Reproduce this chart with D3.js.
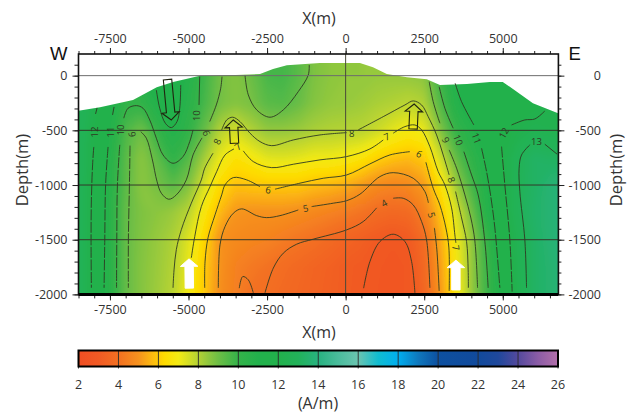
<!DOCTYPE html>
<html>
<head>
<meta charset="utf-8">
<script src="https://cdn.jsdelivr.net/npm/d3@7"></script>
<style>
html, body { margin: 0; padding: 0; background: #fff; }
svg { display: block; }
text { font-family: "Open Sans", sans-serif; fill: #333; }
</style>
</head>
<body>
<svg id="chart" width="634" height="414"></svg>
<script>
// tick labels
const xMajor = [-7500, -5000, -2500, 0, 2500, 5000]
const xMinor = d3.range(-8500, 6501, 500)
const depthMajor = [0, -500, -1000, -1500, -2000]
const depthMinor = d3.range(-2000, 101, 100)
const gridDepths = [0, -500, -1000, -1500]
const barTicks = [2, 4, 6, 8, 10, 12, 14, 16, 18, 20, 22, 24, 26]

// colour ramp of the A/m bar
const rampValues = [2, 3, 4, 5, 5.7, 6.3, 7, 8, 8.5, 9, 10, 11, 12, 13, 14, 15, 16, 17, 18, 19, 20, 22, 23, 24, 25, 26]
const rampColors = ['#f04e23', '#f15a24', '#f37021', '#f6921e', '#fdbb10', '#ffdb00', '#f3ea14', '#b4d234', '#8fc73e', '#6dbe45', '#34b34a', '#22b14c', '#22b14c', '#22b25a', '#28b280', '#4abc9c', '#6bc4b0', '#10bcd0', '#00aeef', '#0f78bd', '#0d50a0', '#114a9c', '#1f489c', '#54499d', '#8b5ca6', '#b370aa']

// surface of the section, x and elevation
const surfaceX = [-8500, -7815, -6765, -6010, -5490, -4635, -3500, -2725, -2310, -1870, -820, 107, 455, 870, 1310, 1950, 2580, 3000, 3860, 4590, 5000, 5325, 5960, 6760]
const surfaceZ = [-320, -290, -222, -106, -58, 0, 5, 15, 60, 95, 115, 115, 115, 77, 15, -15, -33, -85, -76, -58, -58, -122, -253, -343]

const gridStartX = -8500, gridStepX = 500, gridStartDepth = 250, gridStepDepth = 250
const row250 = [13, 12.5, 11.6, 10.9, 10.9, 11.1, 11.5, 10.8, 9.9, 9, 8.7, 9.1, 9.7, 9.8, 9.4, 8.8, 8.6, 8.5, 8.5, 8.45, 8.45, 8.5, 8.6, 9.9, 11, 11.7, 11.8, 11.85, 11.9, 12, 12, 12]
const row0 = [13, 12.5, 11.6, 10.9, 10.9, 11.1, 11.5, 10.8, 9.9, 9, 8.7, 9.1, 9.7, 9.8, 9.4, 8.8, 8.6, 8.5, 8.5, 8.45, 8.45, 8.5, 8.6, 9.9, 11, 11.7, 11.8, 11.85, 11.9, 12, 12, 12]
const row250m = [13, 12.3, 11.3, 10.15, 10.2, 10.95, 11.4, 10.55, 9.75, 8.95, 8.7, 8.9, 9.4, 9.5, 9.15, 8.7, 8.5, 8.45, 8.35, 8.2, 8.1, 7.95, 8.1, 9.5, 10.8, 11.4, 11.7, 11.85, 11.9, 11.95, 12.1, 12.1]
const row500m = [13, 12.05, 11, 9.6, 9, 10.1, 10.9, 10.25, 9.2, 8.05, 7.55, 8.1, 8.5, 8.5, 8.4, 8.2, 8.1, 8.05, 8, 7.7, 7.3, 6.95, 7.2, 8.7, 10.1, 10.8, 11.5, 11.95, 12.2, 12.5, 12.4, 12.4]
const row750m = [13, 11.95, 10.7, 9.4, 8.6, 9.3, 10.3, 9.5, 8.3, 7.2, 6.6, 6.9, 7.35, 7.4, 7.3, 7.1, 7.1, 6.95, 6.7, 6.2, 5.9, 5.75, 6, 7.6, 9.2, 10.3, 11.1, 12, 12.85, 13.3, 13.2, 13.2]
const row1000m = [13, 11.8, 10.6, 9.35, 8.6, 8.95, 9.4, 8.8, 7.5, 6.4, 5.85, 5.95, 6, 6, 6, 5.8, 5.7, 5.55, 5.2, 4.85, 4.7, 4.8, 5.2, 6.5, 8.3, 9.7, 11, 11.95, 12.9, 13.3, 13.7, 13.9]
const row1250m = [13, 11.8, 10.6, 9.2, 8.8, 8.6, 8.4, 8, 6.8, 5.7, 5.1, 5, 5, 5, 4.9, 4.75, 4.6, 4.4, 4.15, 3.85, 3.7, 3.8, 4.55, 5.85, 7.4, 9, 10.8, 11.8, 12.95, 13.4, 13.7, 13.9]
const row1500m = [13, 11.8, 10.6, 9.2, 8.75, 8.45, 8.15, 7.4, 6.3, 5, 4.8, 4.7, 4.6, 4.4, 4.2, 4, 3.75, 3.5, 3.3, 3.05, 2.85, 3.05, 3.85, 5.4, 7, 8.5, 10.15, 11.6, 12.6, 13.3, 13.7, 13.9]
const row1750m = [13, 11.8, 10.6, 9.2, 8.7, 8.4, 8.07, 7.2, 6.05, 5, 4.55, 4.3, 4.1, 3.9, 3.7, 3.5, 3.35, 3.15, 3.05, 2.85, 2.7, 2.85, 3.7, 5.2, 6.8, 8.45, 10, 11.4, 12.55, 13.3, 13.6, 13.9]
const row2000m = [13, 11.8, 10.6, 9.2, 8.7, 8.35, 8, 7, 6, 4.9, 4.5, 4.05, 3.95, 3.75, 3.6, 3.45, 3.3, 3.15, 3, 2.8, 2.7, 2.85, 3.6, 5.05, 6.7, 8.45, 9.95, 11.25, 12.5, 13.3, 13.6, 13.9]
const fieldRows = [row250, row0, row250m, row500m, row750m, row1000m, row1250m, row1500m, row1750m, row2000m]

// isolines, [x, depth] pairs, broken where a label sits
const iso12wA = [[-7909, -295], [-7957, -350]]
const iso12wB = [[-8014, -652], [-8052, -816], [-8090, -1136], [-8100, -1502], [-8090, -1940]]
const iso11wA = [[-7368, -286], [-7416, -359]]
const iso11wB = [[-7559, -652], [-7638, -999], [-7664, -1502], [-7686, -1940]]
const iso10wB = [[-7187, -633], [-7262, -1000], [-7282, -1500], [-7290, -1940]]
const iso9wB = [[-6860, -640], [-6880, -1000], [-6913, -1500], [-6913, -1940]]
const iso10w = [[-7060, -389], [-6923, -298], [-6659, -274], [-6446, -298], [-6233, -405], [-6023, -572], [-5810, -725], [-5492, -801], [-5174, -740], [-4961, -603], [-4856, -496]]
const iso10wTop = [[-4665, -268], [-4643, -9]]
const iso11Trough = [[-6023, -131], [-5915, -298], [-5737, -435], [-5546, -475], [-5365, -420], [-5279, -298], [-5247, -85]]
const iso9w = [[-6519, -512], [-6341, -572], [-6160, -755], [-6000, -969], [-5864, -1075], [-5629, -1130], [-5387, -1090], [-5069, -953], [-4856, -725], [-4570, -569]]
const iso9wTop = [[-4325, -420], [-4115, -268], [-3975, -115], [-3934, -9]]
const iso9Top = [[-3202, 6], [-3097, -176], [-2830, -313], [-2407, -380], [-1984, -313], [-1507, -146], [-1189, 6], [-1158, 98]]
const iso8w = [[-4220, -709], [-4484, -846], [-4592, -953], [-4910, -1166], [-5228, -1408], [-5387, -1590], [-5460, -1776], [-5492, -1940]]
const iso8mid = [[-3943, -496], [-3784, -405], [-3593, -380], [-3361, -420], [-3043, -526], [-2725, -603], [-2353, -640], [-1666, -588], [-817, -542], [32, -521]]
const iso8e = [[401, -496], [1196, -375], [1886, -268], [2150, -231], [2417, -268], [2627, -375], [2894, -542], [3104, -725], [3294, -908]]
const iso8eB = [[3498, -1060], [3689, -1301], [3848, -1517], [3899, -1776], [3905, -1940]]
const iso7w = [[-3552, -670], [-3838, -725], [-4102, -877], [-4315, -1015], [-4592, -1197], [-4802, -1472], [-4910, -1666]]
const iso7mid = [[-3256, -688], [-2938, -786], [-2353, -841], [-1666, -810], [-817, -770], [32, -740], [773, -670], [1196, -588]]
const iso7e = [[1514, -526], [1886, -466], [2204, -451], [2417, -496], [2681, -649], [2945, -877], [3158, -999], [3371, -1209], [3476, -1456], [3508, -1529]]
const iso6w = [[-4484, -1940], [-4474, -1703], [-4379, -1483], [-4156, -1273], [-3943, -1090], [-3838, -999], [-3574, -932], [-3148, -953], [-2725, -1015]]
const iso6mid = [[-2248, -1038], [-1453, -983], [-712, -938], [32, -908], [773, -807], [1409, -725], [2045, -695]]
const iso6e = [[2554, -792], [2786, -1029], [2999, -1182], [3190, -1392], [3285, -1575], [3295, -1968]]
const iso5w = [[-4051, -1940], [-3997, -1547], [-3838, -1380], [-3574, -1258], [-3307, -1218], [-2830, -1280], [-2512, -1298], [-2089, -1280], [-1507, -1228]]
const iso5mid = [[-1081, -1197], [-394, -1166], [32, -1143], [455, -1084], [1091, -923], [1514, -887], [2150, -938], [2522, -1060], [2633, -1163]]
const iso5e = [[2824, -1392], [2903, -1593], [2976, -1968]]
const iso4w = [[-2566, -1986], [-2302, -1760], [-1984, -1623], [-1558, -1541], [-1030, -1495], [32, -1410], [560, -1334], [986, -1209]]
const iso4e = [[1514, -1121], [1832, -1121], [2150, -1182], [2417, -1334], [2576, -1502], [2681, -1940]]
const iso4Loop = [[-3384, -1943], [-3275, -1837], [-3097, -1867], [-2938, -1986]]
const iso3Loop = [[572, -1943], [773, -1700], [1091, -1517], [1514, -1450], [1886, -1517], [2099, -1700], [2204, -1986]]
const iso9eA = [[2659, -55], [2786, -238], [2999, -435]]
const iso9eB = [[3294, -679], [3530, -846], [3794, -1090], [3985, -1301], [4112, -1511], [4198, -1940]]
const iso10eA = [[2976, -101], [3158, -298], [3422, -481]]
const iso10eB = [[3762, -695], [4007, -908], [4217, -1090], [4430, -1517], [4535, -1940]]
const iso11eA = [[3485, -69], [3689, -238], [4080, -451]]
const iso11eB = [[4325, -664], [4484, -877], [4611, -1090], [4748, -1392], [4907, -1940]]
const iso12eA = [[6338, -323], [6020, -396], [5702, -405], [5279, -451]]
const iso12eB = [[4961, -649], [5066, -999], [5225, -1502], [5298, -1974]]
const iso13A = [[5861, -633], [5597, -725], [5520, -846], [5543, -1060], [5702, -1502], [5756, -1940]]
const iso13B = [[6338, -627], [6729, -718]]

const solidLines = [iso10w, iso10wTop, iso11Trough, iso9w, iso9wTop, iso9Top, iso8w, iso8mid, iso8e, iso8eB, iso7w, iso7mid, iso7e, iso6w, iso6mid, iso6e, iso5w, iso5mid, iso5e, iso4w, iso4e, iso4Loop, iso3Loop, iso9eA, iso9eB, iso10eA, iso10eB, iso11eA, iso12eA, iso13A, iso13B]
const brokenLines = [iso12wA, iso12wB, iso11wA, iso11wB, iso10wB, iso9wB, iso11eB, iso12eB]

// isoline labels
const labelText = ['12', '11', '10', '9', '10', '9', '8', '7', '6', '5', '8', '7', '6', '5', '4', '9', '10', '11', '8', '7', '12', '13']
const labelX = [-7982, -7486, -7156, -6796, -4751, -4433, -4083, -3434, -2461, -1272, 191, 1304, 2340, 2735, 1227, 3190, 3581, 4166, 3371, 3508, 5034, 6074]
const labelDepth = [-515, -515, -496, -536, -366, -526, -603, -649, -1045, -1212, -526, -557, -716, -1273, -1166, -588, -588, -572, -953, -1575, -524, -603]
const labelAngle = [-90, -90, -90, 80, -90, -110, -65, -40, 8, -10, 0, -25, 25, 75, -30, 65, 70, 70, 70, 80, -60, 0]

// arrows, tip x, tip depth, tail x, tail depth
const hollowArrows = [[-5546, -405, -5667, -36], [-3574, -405, -3536, -618], [2181, -259, 2147, -487]]
const whiteArrows = [[-4983, -1675, -4973, -1943], [3508, -1687, 3508, -1959]]

const margin = { top: 54, right: 634 - 558.4, bottom: 414 - 294.4, left: 78.5 }
const width = 634, height = 414

const svg = d3.select('#chart')
const x = d3.scaleLinear().domain([-8500, 6770]).range([margin.left, width - margin.right])
const y = d3.scaleLinear().domain([198, -2000]).range([margin.top, height - margin.bottom])
const color = d3.scaleLinear().domain(rampValues).range(rampColors).interpolate(d3.interpolateRgb)

const surfaceData = surfaceX.map((d, i) => [d, surfaceZ[i]])
const surface = d3.area().x(d => x(d[0])).y0(y(-2000)).y1(d => y(d[1]))

const defs = svg.append('defs')
defs.append('clipPath').attr('id', 'ground')
    .append('path').attr('d', surface(surfaceData))
defs.append('clipPath').attr('id', 'frame')
    .append('rect')
    .attr('x', margin.left).attr('y', margin.top)
    .attr('width', x.range()[1] - margin.left).attr('height', y.range()[1] - margin.top)
// softens the corners the coarse grid leaves in the bands
defs.append('filter').attr('id', 'soft')
    .attr('filterUnits', 'userSpaceOnUse')
    .attr('x', 0).attr('y', 0).attr('width', width).attr('height', height)
    .append('feGaussianBlur').attr('stdDeviation', 3)

// colour field, d3.contours over the grid with thin bands
const nCols = fieldRows[0].length, nRows = fieldRows.length
const fieldValues = [].concat(...fieldRows)
const bands = d3.contours()
    .size([nCols, nRows])
    .thresholds(d3.range(2, 15, 0.1))(fieldValues)
const project = d3.geoTransform({
    point: function (c, r) {
        this.stream.point(
            x(gridStartX + (c - 0.5) * gridStepX),
            y(gridStartDepth - (r - 0.5) * gridStepDepth))
    }
})
const bandPath = d3.geoPath(project)

const field = svg.append('g').attr('clip-path', 'url(#frame)')
    .append('g').attr('clip-path', 'url(#ground)')
    .append('g').attr('filter', 'url(#soft)')
field.selectAll('path')
    .data(bands)
    .enter()
    .append('path')
    .attr('d', bandPath)
    .attr('fill', d => color(d.value))

// isolines
const isoLine = d3.line()
    .x(d => x(d[0]))
    .y(d => y(d[1]))
    .curve(d3.curveCatmullRom.alpha(0.5))

const plot = svg.append('g').attr('clip-path', 'url(#frame)')
plot.selectAll('.iso')
    .data(solidLines)
    .enter()
    .append('path')
    .attr('class', 'iso')
    .attr('d', isoLine)
    .attr('fill', 'none')
    .attr('stroke', '#2e3a22')
    .attr('stroke-width', 0.9)
plot.selectAll('.broken')
    .data(brokenLines)
    .enter()
    .append('path')
    .attr('class', 'broken')
    .attr('d', isoLine)
    .attr('fill', 'none')
    .attr('stroke', '#2e3a22')
    .attr('stroke-width', 0.9)
    .attr('stroke-dasharray', '11 1.5')

// grid lines on top of the field
plot.selectAll('.grid')
    .data(gridDepths)
    .enter()
    .append('line')
    .attr('class', 'grid')
    .attr('x1', margin.left).attr('x2', width - margin.right)
    .attr('y1', d => y(d)).attr('y2', d => y(d))
    .attr('stroke', d => d === 0 ? '#6d6d6d' : '#33382a')
    .attr('stroke-width', 1)
plot.append('line')
    .attr('x1', x(0)).attr('x2', x(0))
    .attr('y1', margin.top).attr('y2', y(-2000))
    .attr('stroke', '#4a4a3a')
    .attr('stroke-width', 1)

// isoline labels
svg.append('g').selectAll('text')
    .data(labelText)
    .enter()
    .append('text')
    .attr('transform', (d, i) => `translate(${x(labelX[i])},${y(labelDepth[i])}) rotate(${labelAngle[i]})`)
    .attr('text-anchor', 'middle')
    .attr('dominant-baseline', 'central')
    .style('font-size', '9.5px')
    .style('fill', '#2e3a22')
    .text(d => d)

// arrows
function arrowPath(a) {
    const tip = [x(a[0]), y(a[1])], tail = [x(a[2]), y(a[3])]
    const len = Math.hypot(tail[0] - tip[0], tail[1] - tip[1])
    const ux = (tail[0] - tip[0]) / len, uy = (tail[1] - tip[1]) / len
    const head = 7.5, wing = 8.7, shaft = 4.2
    const at = (along, side) => [tip[0] + ux * along - uy * side, tip[1] + uy * along + ux * side]
    return d3.line()([at(0, 0), at(head, wing), at(head, shaft), at(len, shaft), at(len, -shaft), at(head, -shaft), at(head, -wing)]) + 'Z'
}
svg.append('g').selectAll('path')
    .data(hollowArrows)
    .enter()
    .append('path')
    .attr('d', arrowPath)
    .attr('fill', 'none')
    .attr('stroke', '#20240f')
    .attr('stroke-width', 1.1)
svg.append('g').selectAll('path')
    .data(whiteArrows)
    .enter()
    .append('path')
    .attr('d', arrowPath)
    .attr('fill', '#fff')
    .attr('stroke', '#fff')
    .attr('stroke-width', 1)

// axes
function drawAxis(axis, values, size, labelled, tx, ty) {
    const g = svg.append('g')
        .attr('transform', `translate(${tx},${ty})`)
        .call(axis.tickValues(values).tickSize(size).tickPadding(labelled ? 5 : 0)
            .tickFormat(labelled ? (d => String(d)) : ''))
    g.select('.domain').remove()
    g.selectAll('line').attr('stroke', '#222')
    g.selectAll('text').attr('fill', null).style('font-size', '12.5px').style('font-family', '"Open Sans", sans-serif')
    return g
}
const plotBottom = y(-2000), plotRight = x.range()[1]
drawAxis(d3.axisTop(x), xMinor, 3, false, 0, margin.top)
drawAxis(d3.axisTop(x), xMajor, 6, true, 0, margin.top)
drawAxis(d3.axisBottom(x), xMinor, 4, false, 0, plotBottom)
drawAxis(d3.axisBottom(x), xMajor, 6, true, 0, plotBottom)
drawAxis(d3.axisLeft(y), depthMinor, 4, false, margin.left, 0)
drawAxis(d3.axisLeft(y), depthMajor, 6, true, margin.left, 0)
drawAxis(d3.axisRight(y), depthMinor, 3, false, plotRight, 0)
drawAxis(d3.axisRight(y), depthMajor, 6, false, plotRight, 0)
// right side labels stand well off the frame
svg.append('g').selectAll('text')
    .data(depthMajor)
    .enter()
    .append('text')
    .attr('x', 601)
    .attr('y', d => y(d))
    .attr('text-anchor', 'end')
    .attr('dominant-baseline', 'central')
    .style('font-size', '12.5px')
    .text(d => d)

// frame
svg.append('rect')
    .attr('x', margin.left).attr('y', margin.top)
    .attr('width', plotRight - margin.left).attr('height', plotBottom - margin.top)
    .attr('fill', 'none').attr('stroke', '#111').attr('stroke-width', 1.6)
svg.append('line')
    .attr('x1', margin.left).attr('x2', plotRight)
    .attr('y1', plotBottom).attr('y2', plotBottom)
    .attr('stroke', '#000').attr('stroke-width', 3)

// axis titles
function title(txt, px, py, rot, size) {
    svg.append('text')
        .attr('transform', `translate(${px},${py}) rotate(${rot})`)
        .attr('text-anchor', 'middle')
        .style('font-size', size + 'px')
        .text(txt)
}
title('X(m)', 319, 24, 0, 16)
title('X(m)', 319, 338, 0, 16)
title('Depth(m)', 28, 170, -90, 16.5)
title('Depth(m)', 622, 170, -90, 16.5)
title('(A/m)', 318, 409, 0, 16)

svg.append('text').attr('x', 50).attr('y', 60)
    .style('font-family', '"Liberation Sans", sans-serif').style('font-size', '18.5px').style('fill', '#111').text('W')
svg.append('text').attr('x', 568.5).attr('y', 60)
    .style('font-family', '"Liberation Sans", sans-serif').style('font-size', '18.5px').style('fill', '#111').text('E')

// colour bar
const barX = d3.scaleLinear().domain([2, 26]).range([78.5, 558])
const barTop = 350.5, barHeight = 16
const grad = defs.append('linearGradient').attr('id', 'ramp')
rampValues.forEach((v, i) => {
    grad.append('stop')
        .attr('offset', (v - 2) / 24)
        .attr('stop-color', rampColors[i])
})
svg.append('rect')
    .attr('x', barX(2)).attr('y', barTop)
    .attr('width', barX(26) - barX(2)).attr('height', barHeight)
    .attr('fill', 'url(#ramp)')
svg.append('g').selectAll('line')
    .data(barTicks)
    .enter()
    .append('line')
    .attr('x1', d => barX(d)).attr('x2', d => barX(d))
    .attr('y1', barTop).attr('y2', barTop + barHeight + 2)
    .attr('stroke', '#2a2a2a').attr('stroke-width', 0.9)
svg.append('rect')
    .attr('x', barX(2)).attr('y', barTop)
    .attr('width', barX(26) - barX(2)).attr('height', barHeight)
    .attr('fill', 'none').attr('stroke', '#000').attr('stroke-width', 2)
svg.append('g').selectAll('text')
    .data(barTicks)
    .enter()
    .append('text')
    .attr('x', d => barX(d))
    .attr('y', 384)
    .attr('text-anchor', 'middle')
    .attr('dominant-baseline', 'central')
    .style('font-size', '12.5px')
    .text(d => d)
</script>
</body>
</html>
